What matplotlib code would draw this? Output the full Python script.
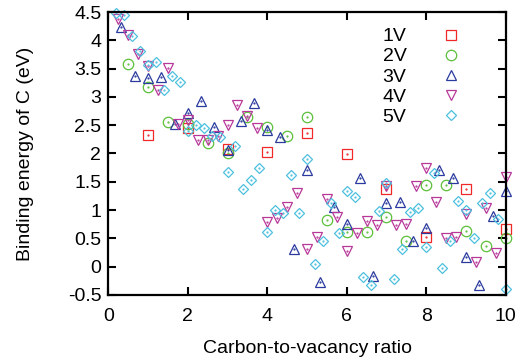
import matplotlib
matplotlib.use("Agg")
import matplotlib.pyplot as plt
import numpy as np

plt.rcParams['font.family'] = ['Liberation Sans', 'DejaVu Sans']

# ---- data ----
x1 = [1, 2, 3, 4, 5, 6, 7, 8, 9, 10]
y1 = [2.33, 2.45, 2.08, 2.03, 2.36, 1.99, 1.37, 0.53, 1.37, 0.66]

x2 = [0.5, 1.0, 1.5, 2.0, 2.5, 3.0, 3.5, 4.0, 4.5, 5.0,
      5.5, 6.0, 6.5, 7.0, 7.5, 8.0, 8.5, 9.0, 9.5, 10.0]
y2 = [3.58, 3.17, 2.55, 2.52, 2.18, 2.00, 2.64, 2.46, 2.31, 2.64,
      0.83, 0.62, 0.62, 0.88, 0.46, 1.44, 1.44, 0.63, 0.37, 0.50]

x3 = [0.33, 0.67, 1.0, 1.33, 1.67, 2.0, 2.33, 2.67, 3.0, 3.33,
      3.67, 4.0, 4.33, 4.67, 5.0, 5.33, 5.67, 6.0, 6.33, 6.67,
      7.0, 7.33, 7.67, 8.0, 8.33, 8.67, 9.0, 9.33, 9.67, 10.0]
y3 = [4.24, 3.37, 3.33, 3.36, 2.52, 2.71, 2.92, 2.46, 2.06, 2.58,
      2.90, 2.42, 2.29, 0.31, 1.71, -0.27, 1.06, 0.75, 1.56, -0.16,
      1.12, 1.14, 0.46, 0.68, 1.71, 1.56, 0.17, -0.32, 0.90, 1.33]

x4 = [0.25, 0.5, 0.75, 1.0, 1.25, 1.5, 1.75, 2.0, 2.25, 2.5,
      2.75, 3.0, 3.25, 3.5, 3.75, 4.0, 4.25, 4.5, 4.75, 5.0,
      5.25, 5.5, 5.75, 6.0, 6.25, 6.5, 6.75, 7.0, 7.25, 7.5,
      7.75, 8.0, 8.25, 8.5, 8.75, 9.0, 9.25, 9.5, 9.75, 10.0]
y4 = [4.38, 4.09, 3.76, 3.55, 3.13, 3.51, 2.52, 2.59, 2.24, 2.24,
      2.31, 2.51, 2.86, 2.66, 2.45, 0.79, 0.86, 1.06, 1.31, 0.31,
      0.53, 1.20, 0.87, 0.27, 0.59, 0.80, 0.74, 1.42, 0.74, 0.75,
      1.43, 1.74, 1.14, 0.50, 0.53, 0.93, 0.08, 1.03, 0.24, 1.59]

x5 = [0.2, 0.4, 0.6, 0.8, 1.0, 1.2, 1.4, 1.6, 1.8, 2.0,
      2.2, 2.4, 2.6, 2.8, 3.0, 3.2, 3.4, 3.6, 3.8, 4.0,
      4.2, 4.4, 4.6, 4.8, 5.0, 5.2, 5.4, 5.6, 5.8, 6.0,
      6.2, 6.4, 6.6, 6.8, 7.0, 7.2, 7.4, 7.6, 7.8, 8.0,
      8.2, 8.4, 8.6, 8.8, 9.0, 9.2, 9.4, 9.6, 9.8, 10.0]
y5 = [4.49, 4.45, 4.08, 3.81, 3.56, 3.62, 3.13, 3.37, 3.26, 2.40,
      2.51, 2.45, 2.31, 2.29, 1.67, 2.13, 1.37, 1.53, 1.74, 0.62,
      1.01, 0.94, 1.62, 0.95, 1.90, 0.05, 0.46, 1.12, 0.59, 1.33,
      1.23, -0.19, -0.32, 0.99, 1.47, -0.21, 0.31, 0.97, 1.03, 0.34,
      1.65, -0.03, 0.46, 1.16, 1.01, 0.50, 1.12, 1.30, 0.84, -0.40]

labels = ['1V', '2V', '3V', '4V', '5V']
xticks = [0, 2, 4, 6, 8, 10]
yticks = [-0.5, 0, 0.5, 1, 1.5, 2, 2.5, 3, 3.5, 4, 4.5]
ytick_labels = ['-0.5', '0', '0.5', '1', '1.5', '2', '2.5', '3', '3.5', '4', '4.5']

series = [(x1, y1), (x2, y2), (x3, y3), (x4, y4), (x5, y5)]
colors = ['#f02828', '#5cbf3a', '#2a3a9e', '#b8389a', '#4cc0de']
markers = ['s', 'o', '^', 'v', 'D']
msizes = [7, 7.5, 7.5, 7.5, 5.5]

fig = plt.figure(figsize=(5.28, 3.64), dpi=100)
ax = fig.add_axes([0.2051, 0.1896, 0.7527, 0.7774])

for (xs, ys), c, m, ms, lab in zip(series, colors, markers, msizes, labels):
    ax.plot(xs, ys, linestyle='none', marker=m, markersize=ms,
            markerfacecolor='none', markeredgecolor=c, markeredgewidth=0.9,
            label=lab, clip_on=False)
    ax.plot(xs, ys, linestyle='none', marker='.', markersize=1.2,
            color=c, clip_on=False)

ax.set_xlim(0, 10)
ax.set_ylim(-0.5, 4.5)
ax.set_xticks(xticks)
ax.set_yticks(yticks)
ax.set_yticklabels(ytick_labels)
ax.tick_params(direction='in', length=5.5, width=1.5, top=True, right=True,
               labelsize=14)
ax.tick_params(axis='x', pad=9.5)
ax.tick_params(axis='y', pad=5)
for s in ax.spines.values():
    s.set_linewidth(1.6)
    s.set_zorder(3)

ax.set_xlabel('Carbon-to-vacancy ratio', fontsize=14, labelpad=11)
ax.set_ylabel('Binding energy of C (eV)', fontsize=14, labelpad=24)

leg = ax.legend(loc='upper right', bbox_to_anchor=(0.93, 0.972),
                frameon=False, markerfirst=False, fontsize=14,
                handlelength=2.0, handletextpad=1.27, labelspacing=0.13,
                borderpad=0.4, borderaxespad=0.0)

fig.savefig('out.png', dpi=100)
